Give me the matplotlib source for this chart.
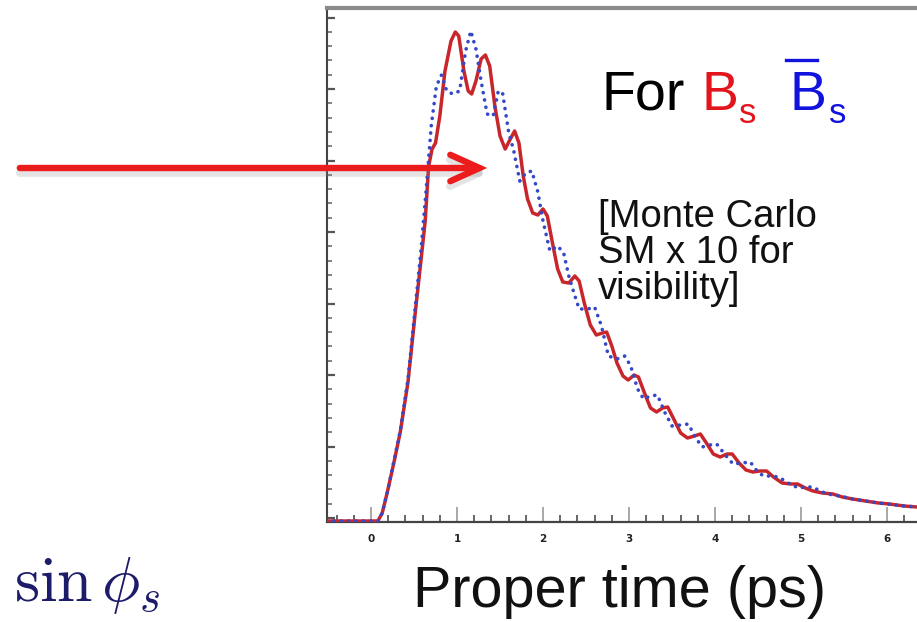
import matplotlib
matplotlib.use('Agg')
import matplotlib.pyplot as plt
from matplotlib.patches import FancyArrowPatch
from matplotlib.lines import Line2D
from matplotlib.ticker import FixedLocator

# ---- data (proper time in ps, counts in arbitrary units) ----
time_red = [-0.52, 0.0, 0.08, 0.13, 0.19, 0.27, 0.34, 0.43, 0.51, 0.58, 0.63, 0.67,
            0.71, 0.75, 0.80, 0.86, 0.93, 0.98, 1.02, 1.08, 1.13, 1.17, 1.22, 1.28,
            1.33, 1.38, 1.44, 1.50, 1.56, 1.62, 1.67, 1.72, 1.77, 1.82, 1.88, 1.94,
            2.00, 2.05, 2.11, 2.17, 2.23, 2.30, 2.37, 2.42, 2.48, 2.55, 2.62, 2.69,
            2.74, 2.80, 2.86, 2.93, 2.99, 3.06, 3.11, 3.18, 3.25, 3.32, 3.39, 3.45,
            3.52, 3.60, 3.68, 3.76, 3.83, 3.90, 3.98, 4.06, 4.14, 4.20, 4.28, 4.36,
            4.44, 4.52, 4.60, 4.68, 4.78, 4.88, 4.96, 5.05, 5.14, 5.25, 5.37, 5.48,
            5.60, 5.75, 5.90, 6.03, 6.20, 6.35]
counts_red = [0, 0, 0, 8, 29, 60, 89, 139, 205, 260, 300, 355,
              372, 378, 405, 450, 480, 489, 485, 450, 430, 427, 440, 462,
              466, 455, 415, 385, 372, 382, 390, 378, 345, 322, 308, 306,
              312, 305, 278, 252, 239, 238, 245, 240, 218, 196, 186, 188,
              189, 175, 158, 145, 141, 146, 144, 128, 113, 109, 113, 114,
              102, 88, 83, 85, 87, 78, 67, 64, 67, 67, 58, 51,
              49, 50, 50, 44, 38, 37, 37, 33, 30, 28, 27, 24,
              22, 20, 18, 17, 15, 14]

time_blue = [-0.52, 0.08, 0.13, 0.19, 0.34, 0.43, 0.51, 0.58, 0.64, 0.70, 0.76, 0.82,
             0.88, 0.95, 1.03, 1.10, 1.16, 1.22, 1.28, 1.35, 1.42, 1.48, 1.53, 1.60,
             1.66, 1.73, 1.80, 1.87, 1.94, 2.00, 2.08, 2.17, 2.24, 2.30, 2.36, 2.42,
             2.52, 2.60, 2.68, 2.76, 2.86, 2.95, 3.02, 3.10, 3.17, 3.25, 3.33, 3.42,
             3.50, 3.60, 3.69, 3.77, 3.85, 3.94, 4.02, 4.12, 4.21, 4.31, 4.41, 4.48,
             4.56, 4.65, 4.74, 4.85, 4.97, 5.06, 5.14, 5.22, 5.31, 5.45, 5.60, 5.75,
             5.90, 6.05, 6.20, 6.35]
counts_blue = [0, 0, 8, 29, 90, 142, 210, 270, 330, 395, 435, 446,
               430, 427, 430, 470, 490, 472, 440, 407, 405, 430, 428, 389,
               370, 340, 348, 350, 329, 300, 270, 275, 268, 245, 228, 212,
               212, 214, 195, 165, 162, 165, 155, 132, 122, 125, 126, 108,
               95, 96, 97, 84, 74, 76, 77, 66, 57, 58, 59, 51,
               45, 45, 44, 38, 33, 34, 34, 30, 27, 25, 22, 20,
               18, 16.5, 15, 14]

xtick_values = [0, 1, 2, 3, 4, 5, 6]
xtick_labels = ['0', '1', '2', '3', '4', '5', '6']

W, H = 917, 622
fig = plt.figure(figsize=(W / 100, H / 100), dpi=100)
fig.patch.set_facecolor('white')

def fx(x):
    return x / W

def fy(y):
    return 1 - y / H

ax = fig.add_axes([fx(327), fy(522), 1 - fx(327), (522 - 8) / H])
ax.set_xlim(-0.512, 6.349)
ax.set_ylim(-1, 513)

ax.plot(time_red, counts_red, color='#c8262a', lw=2.5, solid_joinstyle='round',
        solid_capstyle='round', zorder=3)
ax.plot(time_blue, counts_blue, color='#3548c8', lw=2.6, linestyle=(0, (0.05, 2.0)),
        dash_capstyle='round', zorder=4)

ax.spines['right'].set_visible(False)
ax.spines['left'].set_color('#444444')
ax.spines['left'].set_linewidth(1.5)
ax.spines['bottom'].set_color('#444444')
ax.spines['bottom'].set_linewidth(1.6)
ax.spines['top'].set_color('#8a8a8a')
ax.spines['top'].set_linewidth(3)

ax.set_xticks(xtick_values)
ax.set_xticklabels(xtick_labels)
ax.xaxis.set_minor_locator(FixedLocator([v / 5 for v in range(-2, 32) if v % 5 != 0]))
ax.tick_params(axis='x', which='major', direction='in', length=10.5, width=1.4,
               color='#a8a8a8', labelsize=7.5, labelcolor='#222222', pad=9)
ax.tick_params(axis='x', which='minor', direction='in', length=5, width=1.4, color='#666666')
for lab in ax.get_xticklabels():
    lab.set_fontweight('bold')

ax.yaxis.set_major_locator(FixedLocator([3 + 71.5 * k for k in range(8)]))
ax.yaxis.set_minor_locator(FixedLocator([3 + 14.3 * k for k in range(36)]))
ax.tick_params(axis='y', which='major', direction='in', length=6, width=1.6, color='#555555',
               labelleft=False)
ax.tick_params(axis='y', which='minor', direction='in', length=3.5, width=1.3, color='#777777')

sans = 'Liberation Sans'
red_t = '#e3141c'
blue_t = '#1212de'

fig.text(fx(601), fy(110), 'For', fontsize=40, family=sans, color='black', va='baseline')
fig.text(fx(702), fy(110), 'B', fontsize=40, family=sans, color=red_t, va='baseline')
fig.text(fx(739), fy(123), 's', fontsize=25, family=sans, color=red_t, va='baseline')
fig.text(fx(790), fy(110), 'B', fontsize=40, family=sans, color=blue_t, va='baseline')
fig.text(fx(829), fy(123), 's', fontsize=25, family=sans, color=blue_t, va='baseline')
fig.add_artist(Line2D([fx(786), fx(817)], [fy(60), fy(60)], color=blue_t, lw=2.4,
                      transform=fig.transFigure))

fig.text(fx(598), fy(227), '[Monte Carlo', fontsize=27.5, family=sans, color='#111111', va='baseline')
fig.text(fx(598), fy(263), 'SM x 10 for', fontsize=27.5, family=sans, color='#111111', va='baseline')
fig.text(fx(598), fy(299), 'visibility]', fontsize=27.5, family=sans, color='#111111', va='baseline')

fig.text(fx(413), fy(607), 'Proper time (ps)', fontsize=41.5, family=sans, color='#111111',
         va='baseline')

plt.rcParams['mathtext.fontset'] = 'cm'
fig.text(fx(14), fy(601), r'$\sin\phi_s$', fontsize=46, color='#1c1c6a', va='baseline')

# arrow with soft shadow
shadow = FancyArrowPatch((fx(17), fy(173)), (fx(491), fy(173)), transform=fig.transFigure,
                         arrowstyle='->,head_length=21,head_width=9.5', mutation_scale=1,
                         lw=5.5, color='#888888', alpha=0.22, zorder=5)
fig.add_artist(shadow)
arrow = FancyArrowPatch((fx(17), fy(168)), (fx(490), fy(168)), transform=fig.transFigure,
                        arrowstyle='->,head_length=21,head_width=9.5', mutation_scale=1,
                        lw=4.6, color='#ec1c1c', zorder=6, capstyle='round', joinstyle='miter')
fig.add_artist(arrow)

fig.savefig('out.png', dpi=100, facecolor='white')
